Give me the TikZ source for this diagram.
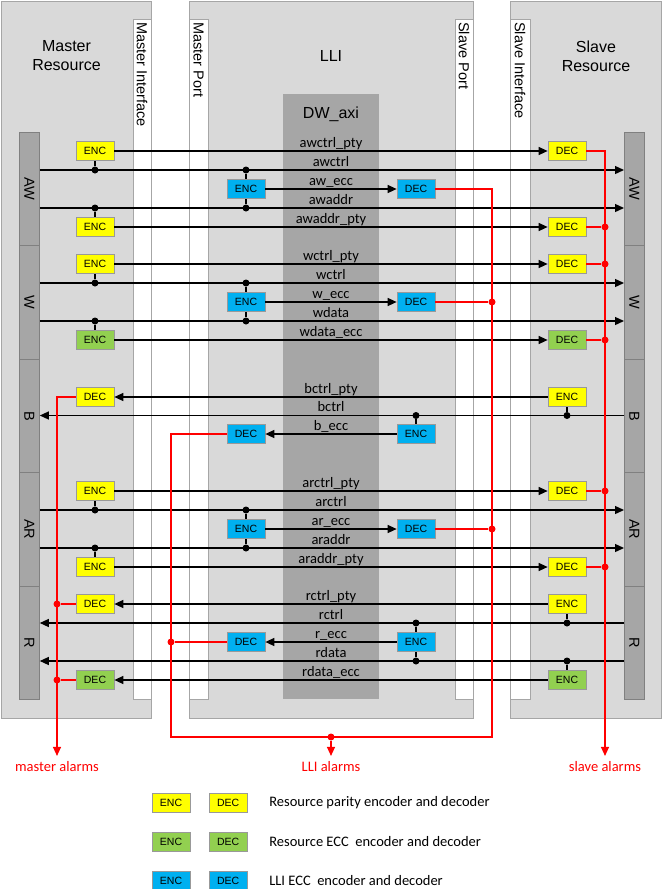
\documentclass[tikz,border=0pt]{standalone}
\usepackage{fontspec}
\setmainfont{Liberation Sans}
\newfontfamily\calibri{Carlito}
\usetikzlibrary{arrows.meta, positioning, calc}
\definecolor{panelgray}{HTML}{D9D9D9}
\definecolor{edgegray}{HTML}{A6A6A6}
\definecolor{axigray}{HTML}{A6A6A6}
\definecolor{ptyyellow}{HTML}{FFFF00}
\definecolor{eccgreen}{HTML}{92D050}
\definecolor{lliblue}{HTML}{00B0F0}
\tikzset{
  panel/.style    = {draw=edgegray, fill=panelgray, anchor=north west,
                     inner sep=0pt, line width=0.8pt},
  strip/.style    = {draw=edgegray, fill=white, anchor=north west,
                     inner sep=0pt, line width=0.8pt},
  axibox/.style   = {fill=axigray, anchor=north west, inner sep=0pt},
  barseg/.style   = {draw=black!50, fill=axigray, anchor=north west,
                     inner sep=0pt, minimum width=20pt, minimum height=113.4pt,
                     line width=0.8pt},
  codec/.style    = {draw=black!40, minimum width=38pt, minimum height=19pt,
                     inner sep=0pt, line width=0.7pt,
                     font=\fontsize{10.5}{12}\selectfont},
  ptybox/.style   = {codec, fill=ptyyellow},
  eccbox/.style   = {codec, fill=eccgreen},
  llibox/.style   = {codec, fill=lliblue},
  sig/.style      = {line width=1.3pt, -{Triangle[length=9pt, width=8pt]}},
  tap/.style      = {line width=1.3pt},
  junc/.style     = {circle, fill=black, inner sep=0pt, minimum size=7pt},
  alarm/.style    = {red, line width=1.2pt},
  alarmtip/.style = {alarm, -{Triangle[length=9pt, width=8pt]}},
  rjunc/.style    = {circle, fill=red, inner sep=0pt, minimum size=7pt},
  siglabel/.style = {font=\calibri\fontsize{14.5}{16}\selectfont, anchor=base,
                     inner sep=0pt},
  title/.style    = {font=\fontsize{16}{19}\selectfont, align=center},
  vtitle/.style   = {font=\fontsize{14.5}{16}\selectfont, rotate=-90,
                     anchor=west, inner sep=0pt},
  chan/.style     = {font=\fontsize{14.5}{16}\selectfont, rotate=-90},
  alarmtext/.style= {font=\calibri\fontsize{14.5}{16}\selectfont, text=red,
                     anchor=base, inner sep=0pt, outer sep=5pt},
  legend/.style   = {font=\calibri\fontsize{14.5}{16}\selectfont, inner sep=0pt},
}

\begin{document}
\begin{tikzpicture}[x=1pt, y=-1pt]
    \useasboundingbox (0,0) rectangle (662,889);

    % --- panels -------------------------------------------------------------
    \node[panel, minimum width=150pt, minimum height=717pt] (mres) at (1,1) {};
    \node[panel, minimum width=284pt, minimum height=717pt] (lli) at (189,1) {};
    \node[panel, minimum width=151pt, minimum height=717pt] (sres) at (510,1) {};
    \node[strip, minimum width=18pt, minimum height=680pt] (mif) at (133,19) {};
    \node[strip, minimum width=19pt, minimum height=680pt] (mport) at (189,19) {};
    \node[strip, minimum width=18pt, minimum height=680pt] (sport) at (455,19) {};
    \node[strip, minimum width=20pt, minimum height=680pt] (sif) at (510,19) {};
    \node[axibox, minimum width=96pt, minimum height=605pt] (axi) at (283,94) {};

    \node[title] at (66.5,56) {Master\\Resource};
    \node[title] at (331,56) {LLI};
    \node[title] at (596,56) {Slave\\Resource};
    \node[title, anchor=base] at (331,118) {DW\_axi};
    \node[vtitle] at (142,22) {Master Interface};
    \node[vtitle] at (198.5,22) {Master Port};
    \node[vtitle] at (464,22) {Slave Port};
    \node[vtitle] at (520,22) {Slave Interface};

    % --- channel bars -------------------------------------------------------
    \node[barseg] (mAW) at (19,132) {};
    \node[barseg] (mW)  at (19,245.4) {};
    \node[barseg] (mB)  at (19,358.8) {};
    \node[barseg] (mAR) at (19,472.2) {};
    \node[barseg] (mR)  at (19,585.6) {};
    \node[barseg] (sAW) at (624,132) {};
    \node[barseg] (sW)  at (624,245.4) {};
    \node[barseg] (sB)  at (624,358.8) {};
    \node[barseg] (sAR) at (624,472.2) {};
    \node[barseg] (sR)  at (624,585.6) {};
    \foreach \ch in {AW, W, B, AR, R} {
      \node[chan] at (m\ch) {\ch};
      \node[chan] at (s\ch) {\ch};
    }

    % --- AW channel ---------------------------------------------------------
    \node[ptybox] (mEncAWc) at (95,151) {ENC};
    \node[ptybox] (sDecAWc) at (567,151) {DEC};
    \node[junc] (jAW1) at (95,170) {};
    \node[junc] (jAW2) at (246,170) {};
    \node[llibox] (lEncAW) at (246,189) {ENC};
    \node[llibox] (lDecAW) at (416,189) {DEC};
    \node[junc] (jAW3) at (95,208) {};
    \node[junc] (jAW4) at (246,208) {};
    \node[ptybox] (mEncAWa) at (95,227) {ENC};
    \node[ptybox] (sDecAWa) at (567,227) {DEC};
    \draw[sig] (mEncAWc) -- (sDecAWc);
    \draw[sig] (mAW.east |- jAW1) -- (sAW.west |- jAW1);
    \draw[sig] (lEncAW) -- (lDecAW);
    \draw[sig] (mAW.east |- jAW3) -- (sAW.west |- jAW3);
    \draw[sig] (mEncAWa) -- (sDecAWa);
    \draw[tap] (jAW1) -- (mEncAWc) (jAW2) -- (lEncAW)
               (jAW3) -- (mEncAWa) (jAW4) -- (lEncAW);
    \node[siglabel] at (331,147) {awctrl\_pty};
    \node[siglabel] at (331,166) {awctrl};
    \node[siglabel] at (331,185) {aw\_ecc};
    \node[siglabel] at (331,204) {awaddr};
    \node[siglabel] at (331,223) {awaddr\_pty};

    % --- W channel ----------------------------------------------------------
    \node[ptybox] (mEncWc) at (95,264) {ENC};
    \node[ptybox] (sDecWc) at (567,264) {DEC};
    \node[junc] (jW1) at (95,283) {};
    \node[junc] (jW2) at (246,283) {};
    \node[llibox] (lEncW) at (246,302) {ENC};
    \node[llibox] (lDecW) at (416,302) {DEC};
    \node[junc] (jW3) at (95,321) {};
    \node[junc] (jW4) at (246,321) {};
    \node[eccbox] (mEncWe) at (95,340) {ENC};
    \node[eccbox] (sDecWe) at (567,340) {DEC};
    \draw[sig] (mEncWc) -- (sDecWc);
    \draw[sig] (mW.east |- jW1) -- (sW.west |- jW1);
    \draw[sig] (lEncW) -- (lDecW);
    \draw[sig] (mW.east |- jW3) -- (sW.west |- jW3);
    \draw[sig] (mEncWe) -- (sDecWe);
    \draw[tap] (jW1) -- (mEncWc) (jW2) -- (lEncW)
               (jW3) -- (mEncWe) (jW4) -- (lEncW);
    \node[siglabel] at (331,260) {wctrl\_pty};
    \node[siglabel] at (331,279) {wctrl};
    \node[siglabel] at (331,298) {w\_ecc};
    \node[siglabel] at (331,317) {wdata};
    \node[siglabel] at (331,336) {wdata\_ecc};

    % --- B channel ----------------------------------------------------------
    \node[ptybox] (sEncBc) at (567,397) {ENC};
    \node[ptybox] (mDecBc) at (95,397) {DEC};
    \node[junc] (jB1) at (567,415.5) {};
    \node[junc] (jB2) at (416,415.5) {};
    \node[llibox] (lEncB) at (416,434) {ENC};
    \node[llibox] (lDecB) at (246,434) {DEC};
    \draw[sig] (sEncBc) -- (mDecBc);
    \draw[sig] (sB.west |- jB1) -- (mB.east |- jB1);
    \draw[sig] (lEncB) -- (lDecB);
    \draw[tap] (jB1) -- (sEncBc) (jB2) -- (lEncB);
    \node[siglabel] at (331,393) {bctrl\_pty};
    \node[siglabel] at (331,411.5) {bctrl};
    \node[siglabel] at (331,430) {b\_ecc};

    % --- AR channel ---------------------------------------------------------
    \node[ptybox] (mEncARc) at (95,491) {ENC};
    \node[ptybox] (sDecARc) at (567,491) {DEC};
    \node[junc] (jAR1) at (95,510) {};
    \node[junc] (jAR2) at (246,510) {};
    \node[llibox] (lEncAR) at (246,529) {ENC};
    \node[llibox] (lDecAR) at (416,529) {DEC};
    \node[junc] (jAR3) at (95,548) {};
    \node[junc] (jAR4) at (246,548) {};
    \node[ptybox] (mEncARa) at (95,567) {ENC};
    \node[ptybox] (sDecARa) at (567,567) {DEC};
    \draw[sig] (mEncARc) -- (sDecARc);
    \draw[sig] (mAR.east |- jAR1) -- (sAR.west |- jAR1);
    \draw[sig] (lEncAR) -- (lDecAR);
    \draw[sig] (mAR.east |- jAR3) -- (sAR.west |- jAR3);
    \draw[sig] (mEncARa) -- (sDecARa);
    \draw[tap] (jAR1) -- (mEncARc) (jAR2) -- (lEncAR)
               (jAR3) -- (mEncARa) (jAR4) -- (lEncAR);
    \node[siglabel] at (331,487) {arctrl\_pty};
    \node[siglabel] at (331,506) {arctrl};
    \node[siglabel] at (331,525) {ar\_ecc};
    \node[siglabel] at (331,544) {araddr};
    \node[siglabel] at (331,563) {araddr\_pty};

    % --- R channel ----------------------------------------------------------
    \node[ptybox] (sEncRc) at (567,604) {ENC};
    \node[ptybox] (mDecRc) at (95,604) {DEC};
    \node[junc] (jR1) at (567,623) {};
    \node[junc] (jR2) at (416,623) {};
    \node[llibox] (lEncR) at (416,642) {ENC};
    \node[llibox] (lDecR) at (246,642) {DEC};
    \node[junc] (jR3) at (416,661) {};
    \node[junc] (jR4) at (567,661) {};
    \node[eccbox] (sEncRe) at (567,680) {ENC};
    \node[eccbox] (mDecRe) at (95,680) {DEC};
    \draw[sig] (sEncRc) -- (mDecRc);
    \draw[sig] (sR.west |- jR1) -- (mR.east |- jR1);
    \draw[sig] (lEncR) -- (lDecR);
    \draw[sig] (sR.west |- jR3) -- (mR.east |- jR3);
    \draw[sig] (sEncRe) -- (mDecRe);
    \draw[tap] (jR1) -- (sEncRc) (jR2) -- (lEncR)
               (jR3) -- (lEncR) (jR4) -- (sEncRe);
    \node[siglabel] at (331,600) {rctrl\_pty};
    \node[siglabel] at (331,619) {rctrl};
    \node[siglabel] at (331,638) {r\_ecc};
    \node[siglabel] at (331,657) {rdata};
    \node[siglabel] at (331,676) {rdata\_ecc};

    % --- alarms -------------------------------------------------------------
    \node[alarmtext] (malarm) at (57,771) {master alarms};
    \node[alarmtext] (lalarm) at (331,771) {LLI alarms};
    \node[alarmtext] (salarm) at (605,771) {slave alarms};

    \draw[alarmtip] (sDecAWc.east) -| (salarm.north);
    \foreach \dec in {sDecAWa, sDecWc, sDecWe, sDecARc, sDecARa} {
      \node[rjunc] (r\dec) at (\dec -| salarm) {};
      \draw[alarm] (\dec) -- (r\dec);
    }

    \draw[alarmtip] (mDecBc.west) -| (malarm.north);
    \foreach \dec in {mDecRc, mDecRe} {
      \node[rjunc] (r\dec) at (\dec -| malarm) {};
      \draw[alarm] (\dec) -- (r\dec);
    }

    \coordinate (lcR) at (492,737);
    \coordinate (lcL) at (171,737);
    \draw[alarm] (lDecAW.east) -| (lcR) -- (lcL) |- (lDecB.west);
    \foreach \dec in {lDecW, lDecAR} {
      \node[rjunc] (r\dec) at (\dec -| lcR) {};
      \draw[alarm] (\dec) -- (r\dec);
    }
    \node[rjunc] (rlDecR) at (lDecR -| lcL) {};
    \draw[alarm] (lDecR) -- (rlDecR);
    \node[rjunc] (rlli) at (lalarm |- lcR) {};
    \draw[alarmtip] (rlli) -- (lalarm.north);

    % --- legend -------------------------------------------------------------
    \node[ptybox] (lgPE) at (171,803) {ENC};
    \node[ptybox, right=18.5pt of lgPE] (lgPD) {DEC};
    \node[legend, right=21.5pt of lgPD] {Resource parity encoder and decoder};
    \node[eccbox, below=19pt of lgPE] (lgEE) {ENC};
    \node[eccbox, right=18.5pt of lgEE] (lgED) {DEC};
    \node[legend, right=21.5pt of lgED] {Resource ECC~ encoder and decoder};
    \node[llibox, below=19pt of lgEE] (lgLE) {ENC};
    \node[llibox, right=18.5pt of lgLE] (lgLD) {DEC};
    \node[legend, right=21.5pt of lgLD] {LLI ECC~ encoder and decoder};
  \end{tikzpicture}
\end{document}
